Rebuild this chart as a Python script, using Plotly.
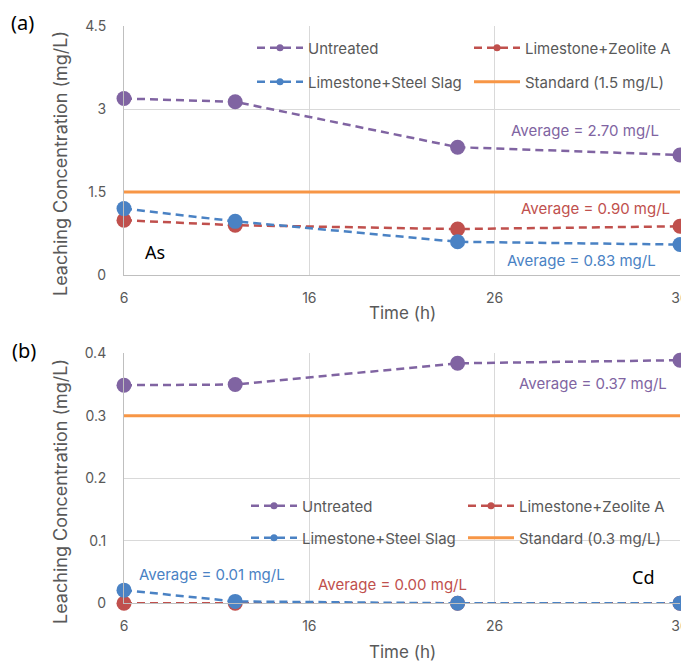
import plotly.graph_objects as go

# ---------------- data ----------------
time_h = [6, 12, 24, 36]

as_untreated = [3.19, 3.13, 2.31, 2.17]
as_zeolite = [0.99, 0.90, 0.83, 0.88]
as_steel_slag = [1.20, 0.97, 0.60, 0.55]
as_standard = [1.5, 1.5, 1.5, 1.5]

cd_untreated = [0.349, 0.350, 0.384, 0.389]
cd_zeolite = [0.0, 0.0, 0.0, 0.0]
cd_steel_slag = [0.021, 0.003, 0.0, 0.0]
cd_standard = [0.3, 0.3, 0.3, 0.3]

x_ticks = [6, 16, 26, 36]
as_yticks = [0, 1.5, 3, 4.5]
cd_yticks = [0, 0.1, 0.2, 0.3, 0.4]

series_names = ["Untreated", "Limestone+Zeolite A", "Limestone+Steel Slag"]
as_std_name = "Standard (1.5 mg/L)"
cd_std_name = "Standard (0.3 mg/L)"

# ---------------- style ----------------
OFF = 8  # page body margin
W, H = 689 - OFF, 664 - OFF
PURPLE = "#8064A2"
RED = "#C0504D"
BLUE = "#4A82C4"
ORANGE = "#F79646"
GRID = "#D9D9D9"
AXIS = "#BFBFBF"
TXT = "#595959"
FONT = "Inter"
DASH = "8px,5px"


def px(x):
    return (x - OFF) / W


def py(y):
    return 1 - (y - OFF) / H


def avg_text(vals):
    m = sum(vals) / len(vals)
    return f"Average = {round(m + 1e-9, 2):.2f} mg/L"


fig = go.Figure()

colors = [PURPLE, RED, BLUE]
panels = [
    ("x", "y", [as_untreated, as_zeolite, as_steel_slag], as_standard, as_std_name, ("legend", "legend2")),
    ("x2", "y2", [cd_untreated, cd_zeolite, cd_steel_slag], cd_standard, cd_std_name, ("legend3", "legend4")),
]

for xa, ya, sers, std, std_name, (lg1, lg2) in panels:
    fig.add_trace(go.Scatter(x=time_h, y=std, mode="lines", xaxis=xa, yaxis=ya,
                             line=dict(color=ORANGE, width=3), showlegend=False,
                             cliponaxis=False, hoverinfo="skip"))
    for vals, c in zip(sers, colors):
        fig.add_trace(go.Scatter(x=time_h, y=vals, mode="lines+markers", xaxis=xa, yaxis=ya,
                                 line=dict(color=c, width=2.5, dash=DASH),
                                 marker=dict(color=c, size=15),
                                 showlegend=False, cliponaxis=False))
    legend_items = [
        (series_names[0], PURPLE, "lines+markers", DASH, lg1),
        (series_names[1], RED, "lines+markers", DASH, lg1),
        (series_names[2], BLUE, "lines+markers", DASH, lg2),
        (std_name, ORANGE, "lines", "solid", lg2),
    ]
    for name, c, mode, dash, lg in legend_items:
        fig.add_trace(go.Scatter(x=[None], y=[None], mode=mode, name=name, xaxis=xa, yaxis=ya,
                                 line=dict(color=c, width=2.5 if mode != "lines" else 3, dash=dash),
                                 marker=dict(color=c, size=7), legend=lg, showlegend=True))

axis_common = dict(showgrid=True, gridcolor=GRID, gridwidth=1, zeroline=False,
                   showline=True, linecolor=AXIS, linewidth=1, ticks="",
                   tickfont=dict(family=FONT, size=14, color=TXT))

fig.update_layout(
    width=W, height=H,
    margin=dict(l=0, r=0, t=0, b=0, autoexpand=False),
    paper_bgcolor="white", plot_bgcolor="white",
    xaxis=dict(domain=[px(124), px(680)], anchor="y", range=[6, 36], tickvals=x_ticks,
               ticklabelstandoff=10, ticklabeloverflow="allow", **axis_common),
    yaxis=dict(domain=[py(275), py(26)], anchor="x", range=[0, 4.5], tickvals=as_yticks,
               ticktext=[f"{v:g}" for v in as_yticks], ticklabelstandoff=14, **axis_common),
    xaxis2=dict(domain=[px(124), px(680)], anchor="y2", range=[6, 36], tickvals=x_ticks,
                ticklabelstandoff=10, ticklabeloverflow="allow", **axis_common),
    yaxis2=dict(domain=[py(603.3), py(353.3)], anchor="x2", range=[0, 0.4], tickvals=cd_yticks,
                ticktext=[f"{v:g}" for v in cd_yticks], ticklabelstandoff=14, **axis_common),
)

leg_common = dict(orientation="h", xanchor="left", yanchor="middle", bgcolor="rgba(0,0,0,0)",
                  borderwidth=0, font=dict(family=FONT, size=15, color=TXT),
                  itemwidth=46, entrywidth=156, entrywidthmode="pixels", itemclick=False)
fig.update_layout(
    legend=dict(x=px(252), y=py(48), **leg_common),
    legend2=dict(x=px(252), y=py(82), **leg_common),
    legend3=dict(x=px(246), y=py(506), **leg_common),
    legend4=dict(x=px(246), y=py(538), **leg_common),
)

for (x0, y0, x1, y1) in [(245, 28, 672, 99), (240, 484, 670, 557)]:
    fig.add_shape(type="rect", xref="paper", yref="paper", x0=px(x0), x1=px(x1),
                  y0=py(y1), y1=py(y0), fillcolor="white", line=dict(width=0), layer="between")

ann = []


def add_text(text, x, y, size, color, family=FONT, angle=0):
    ann.append(dict(text=text, x=px(x), y=py(y), xref="paper", yref="paper",
                    xanchor="center", yanchor="middle", showarrow=False, textangle=angle,
                    font=dict(family=family, size=size, color=color)))


add_text(avg_text(as_untreated), 585, 130, 15, PURPLE)
add_text(avg_text(as_zeolite), 595, 208, 15, RED)
add_text(avg_text(as_steel_slag), 581, 260, 15, BLUE)
add_text("As", 155, 252, 18, "black", family="Noto Sans")

add_text(avg_text(cd_untreated), 593, 383, 15, PURPLE)
add_text(avg_text(cd_steel_slag), 212, 574, 15, BLUE)
add_text(avg_text(cd_zeolite), 393, 584, 15, RED)
add_text("Cd", 643, 577, 18, "black", family="Noto Sans")

add_text("(a)", 22, 22, 20, "black", family="Noto Sans")
add_text("(b)", 24, 350, 20, "black", family="Noto Sans")

add_text("Leaching Concentration (mg/L)", 60, 164, 18, TXT, angle=-90)
add_text("Leaching Concentration (mg/L)", 60, 492, 18, TXT, angle=-90)
add_text("Time (h)", 402, 313, 17, TXT)
add_text("Time (h)", 402, 652, 17, TXT)

fig.update_layout(annotations=ann)

fig.write_html("out.html")
